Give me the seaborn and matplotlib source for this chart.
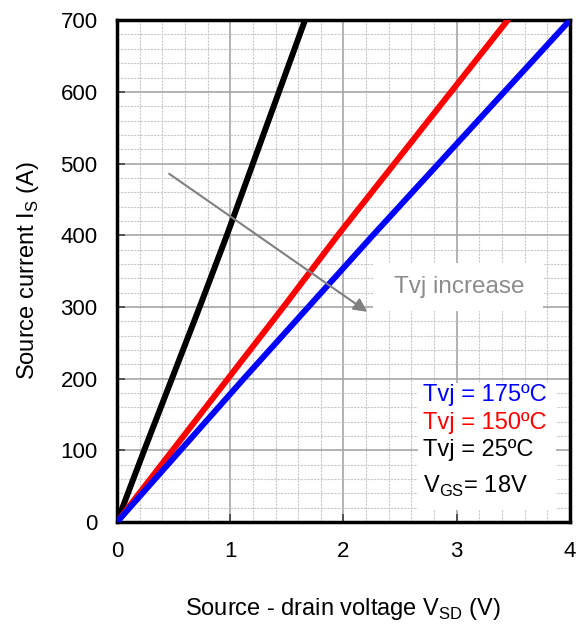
import numpy as np
import pandas as pd
import matplotlib
matplotlib.use("Agg")
import matplotlib.pyplot as plt
import seaborn as sns
from matplotlib.ticker import MultipleLocator
from matplotlib.patches import Rectangle

sns.set_theme(style="white")
plt.rcParams['font.family'] = ['Liberation Sans', 'DejaVu Sans']

# Data
current = [0, 100, 200, 300, 400, 500, 600, 700]
v_25 = [0.0, 0.24, 0.485, 0.73, 0.97, 1.20, 1.43, 1.66]
v_150 = [0.0, 0.49, 0.98, 1.47, 1.95, 2.45, 2.95, 3.45]
v_175 = [0.0, 0.56, 1.12, 1.69, 2.26, 2.84, 3.42, 4.00]

df = pd.concat([
    pd.DataFrame({"V": v_25, "I": current, "T": "25"}),
    pd.DataFrame({"V": v_150, "I": current, "T": "150"}),
    pd.DataFrame({"V": v_175, "I": current, "T": "175"}),
])
palette = {"25": "black", "150": "#ff0000", "175": "#0000ff"}

fig = plt.figure(figsize=(5.81, 6.3), dpi=100)
ax = fig.add_axes([0.2014, 0.1714, 0.7796, 0.7966])

sns.lineplot(data=df, x="V", y="I", hue="T", palette=palette, linewidth=4.3,
             legend=False, ax=ax, sort=False, zorder=3)

ax.set_xlim(0, 4)
ax.set_ylim(0, 700)
ax.xaxis.set_major_locator(MultipleLocator(1))
ax.xaxis.set_minor_locator(MultipleLocator(0.2))
ax.yaxis.set_major_locator(MultipleLocator(100))
ax.yaxis.set_minor_locator(MultipleLocator(20))
ax.grid(which="minor", color="#c8c8c8", linestyle=(0, (2, 1)), linewidth=0.8)
ax.grid(which="major", color="#a6a6a6", linestyle="-", linewidth=1.2)
ax.set_axisbelow(True)
ax.tick_params(which="major", direction="in", length=6, width=1.2, color="#404040",
               labelsize=16, pad=14, left=True, bottom=True, labelcolor="black")
ax.tick_params(which="minor", length=0)
for s in ax.spines.values():
    s.set_color("black")
    s.set_linewidth(2.5)

ax.set_xlabel(r"Source - drain voltage V$_{\mathregular{SD}}$ (V)", fontsize=17,
              labelpad=24, color="black")
ax.set_ylabel(r"Source current I$_{\mathregular{S}}$ (A)", fontsize=17,
              labelpad=14, color="black")

# Arrow
ax.annotate("", xy=(2.23, 291), xytext=(0.44, 488),
            arrowprops=dict(arrowstyle="-|>", color="#808080", lw=1.5, mutation_scale=20),
            zorder=4)
ax.add_patch(Rectangle((2.26, 294), 1.50, 67, facecolor="white", edgecolor="none", zorder=4))
ax.text(3.02, 328, "Tvj increase", color="#8c8c8c", fontsize=17.5, ha="center", va="center",
        zorder=5)

# Legend block
ax.add_patch(Rectangle((2.66, 17), 1.22, 177, facecolor="white", edgecolor="none", zorder=4))
ax.text(2.70, 177, "Tvj = 175ºC", color="#0000ff", fontsize=17, va="center", zorder=5)
ax.text(2.70, 138, "Tvj = 150ºC", color="#ff0000", fontsize=17, va="center", zorder=5)
ax.text(2.70, 100, "Tvj = 25ºC", color="black", fontsize=17, va="center", zorder=5)
ax.text(2.70, 49, r"V$_{\mathregular{GS}}$= 18V", color="black", fontsize=17, va="center", zorder=5)

fig.savefig("out.png", dpi=100)
